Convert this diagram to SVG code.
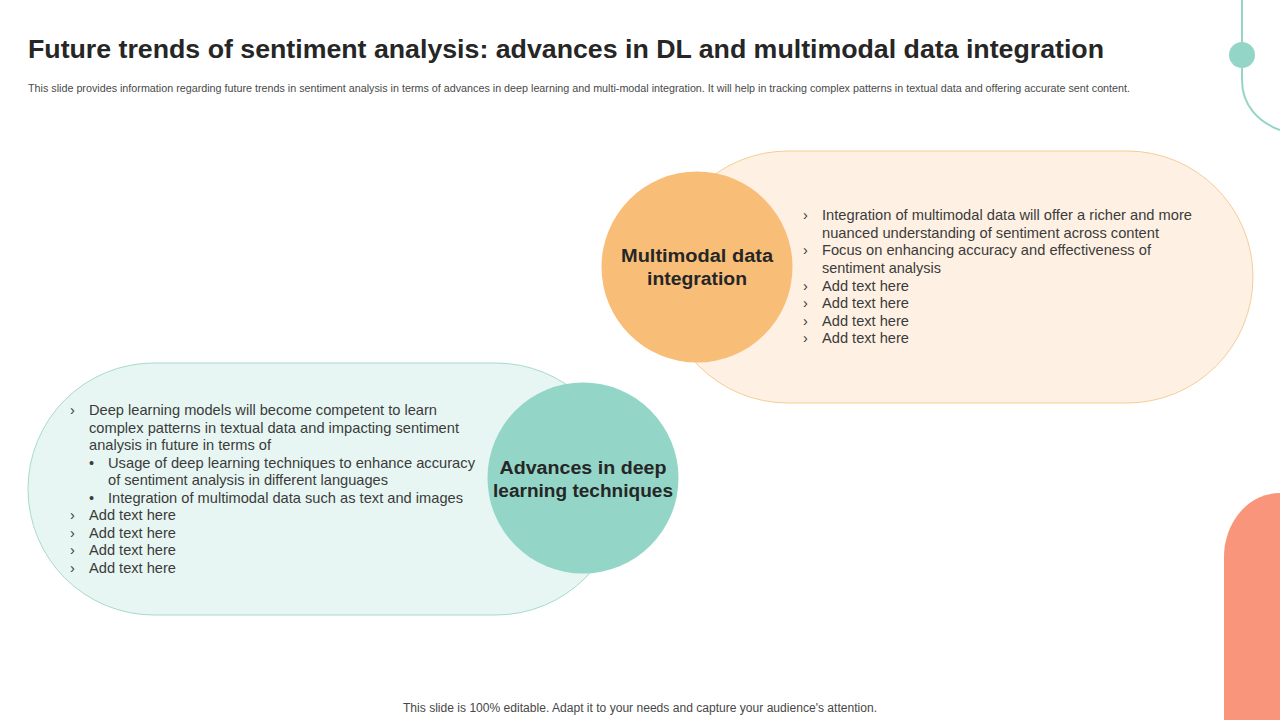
<svg xmlns="http://www.w3.org/2000/svg" width="1280" height="720" viewBox="0 0 1280 720">
<style>
.title{font-family:"Liberation Sans",Arial,sans-serif;font-weight:bold;font-size:25px;fill:#262626}
.sub{font-family:"Liberation Sans",Arial,sans-serif;font-size:10px;fill:#4a4a4a}
.body{font-family:"Liberation Sans",Arial,sans-serif;font-size:14.5px;fill:#3b3b3b}
.lbl{font-family:"Liberation Sans",Arial,sans-serif;font-weight:bold;font-size:18px;fill:#262626;text-anchor:middle}
.foot{font-family:"Liberation Sans",Arial,sans-serif;font-size:12px;fill:#474747}
</style>
<rect width="1280" height="720" fill="#ffffff"/>
<g id="decor">
<path d="M1242,0 V80 C1242,105 1258,122 1280,130" fill="none" stroke="#93D6C8" stroke-width="2"/>
<circle cx="1242" cy="55" r="13" fill="#93D6C8"/>
<path d="M1224,720 V557 A56,64 0 0 1 1280,493 V720 Z" fill="#F8957A"/>
</g>
<text class="title" x="28" y="58" textLength="1076" lengthAdjust="spacingAndGlyphs">Future trends of sentiment analysis: advances in DL and multimodal data integration</text>
<text class="sub" x="28" y="92" textLength="1102" lengthAdjust="spacingAndGlyphs">This slide provides information regarding future trends in sentiment analysis in terms of advances in deep learning and multi-modal integration. It will help in tracking complex patterns in textual data and offering accurate sent content.</text>
<g id="node-multimodal">
<rect x="662" y="151" width="591" height="252" rx="126" ry="126" fill="#FEF1E3" stroke="#F5CD97" stroke-width="1"/>
<circle cx="697" cy="267" r="95.5" fill="#F8BE78"/>
<text class="lbl" x="697" y="262" textLength="152" lengthAdjust="spacingAndGlyphs">Multimodal data</text>
<text class="lbl" x="697" y="285" textLength="100" lengthAdjust="spacingAndGlyphs">integration</text>
<g class="body">
<text x="803" y="220">›</text><text x="822" y="220" textLength="370" lengthAdjust="spacingAndGlyphs">Integration of multimodal data will offer a richer and more</text>
<text x="822" y="238" textLength="337" lengthAdjust="spacingAndGlyphs">nuanced understanding of sentiment across content</text>
<text x="803" y="255">›</text><text x="822" y="255" textLength="329" lengthAdjust="spacingAndGlyphs">Focus on enhancing accuracy and effectiveness of</text>
<text x="822" y="273" textLength="119" lengthAdjust="spacingAndGlyphs">sentiment analysis</text>
<text x="803" y="291">›</text><text x="822" y="291" textLength="87" lengthAdjust="spacingAndGlyphs">Add text here</text>
<text x="803" y="308">›</text><text x="822" y="308" textLength="87" lengthAdjust="spacingAndGlyphs">Add text here</text>
<text x="803" y="326">›</text><text x="822" y="326" textLength="87" lengthAdjust="spacingAndGlyphs">Add text here</text>
<text x="803" y="343">›</text><text x="822" y="343" textLength="87" lengthAdjust="spacingAndGlyphs">Add text here</text>
</g>
</g>
<g id="node-deep-learning">
<rect x="28" y="363" width="594" height="252" rx="126" ry="126" fill="#E7F6F2" stroke="#A5DBCE" stroke-width="1"/>
<circle cx="583" cy="478" r="95.5" fill="#93D6C8"/>
<text class="lbl" x="583" y="474" textLength="167" lengthAdjust="spacingAndGlyphs">Advances in deep</text>
<text class="lbl" x="583" y="497" textLength="180" lengthAdjust="spacingAndGlyphs">learning techniques</text>
<g class="body">
<text x="70" y="415">›</text><text x="89" y="415" textLength="348" lengthAdjust="spacingAndGlyphs">Deep learning models will become competent to learn</text>
<text x="89" y="433" textLength="370" lengthAdjust="spacingAndGlyphs">complex patterns in textual data and impacting sentiment</text>
<text x="89" y="450" textLength="182" lengthAdjust="spacingAndGlyphs">analysis in future in terms of</text>
<text x="89" y="468">•</text><text x="108" y="468" textLength="367" lengthAdjust="spacingAndGlyphs">Usage of deep learning techniques to enhance accuracy</text>
<text x="108" y="485" textLength="280" lengthAdjust="spacingAndGlyphs">of sentiment analysis in different languages</text>
<text x="89" y="503">•</text><text x="108" y="503" textLength="355" lengthAdjust="spacingAndGlyphs">Integration of multimodal data such as text and images</text>
<text x="70" y="520">›</text><text x="89" y="520" textLength="87" lengthAdjust="spacingAndGlyphs">Add text here</text>
<text x="70" y="538">›</text><text x="89" y="538" textLength="87" lengthAdjust="spacingAndGlyphs">Add text here</text>
<text x="70" y="555">›</text><text x="89" y="555" textLength="87" lengthAdjust="spacingAndGlyphs">Add text here</text>
<text x="70" y="573">›</text><text x="89" y="573" textLength="87" lengthAdjust="spacingAndGlyphs">Add text here</text>
</g>
</g>
<g id="connectors"/>
<text class="foot" x="403" y="712" textLength="474" lengthAdjust="spacingAndGlyphs">This slide is 100% editable. Adapt it to your needs and capture your audience's attention.</text>
</svg>
